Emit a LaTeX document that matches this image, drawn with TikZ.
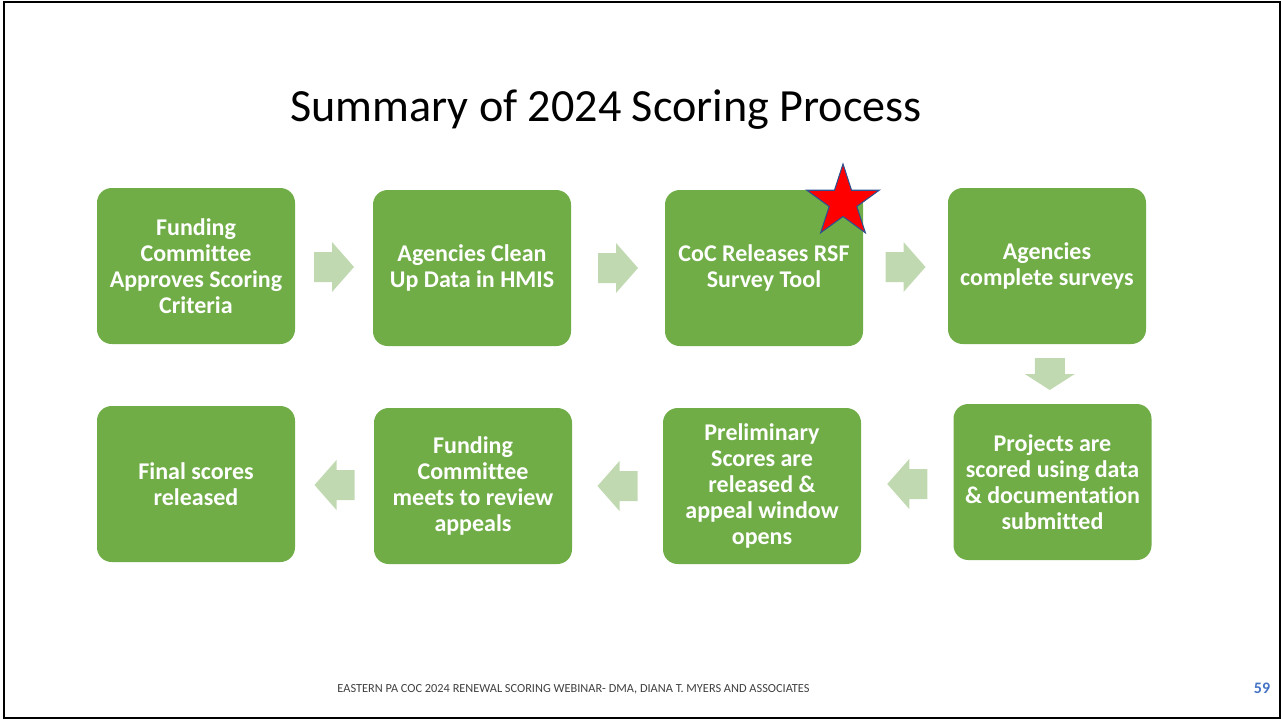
\documentclass[tikz,border=0pt]{standalone}
\usepackage{fontspec}
\setmainfont{Carlito}[Ligatures=CommonOff]
\usetikzlibrary{calc,shapes.geometric}
\definecolor{boxgreen}{RGB}{112,173,71}
\definecolor{arrowgreen}{RGB}{193,217,177}
\definecolor{footgray}{RGB}{64,64,64}
\definecolor{numblue}{RGB}{68,114,196}
\definecolor{starblue}{RGB}{47,82,143}
\tikzset{
  stage/.style={fill=boxgreen, rounded corners=11pt, minimum width=148.5pt,
    minimum height=117pt, align=center, text=white, inner sep=0pt,
    font=\fontsize{18}{19.5}\selectfont\bfseries},
  harrow/.pic={\fill[arrowgreen] (-20,-15) -- (-2,-15) -- (-2,-25) -- (20,0)
    -- (-2,25) -- (-2,15) -- (-20,15) -- cycle;},
  varrow/.pic={\fill[arrowgreen] (-15,-16) -- (15,-16) -- (15,0) -- (25,0)
    -- (0,16) -- (-25,0) -- (-15,0) -- cycle;}
}
\begin{document}
\begin{tikzpicture}[x=0.75pt, y=-0.75pt]
  \useasboundingbox (0,0) rectangle (1281,719);
  \draw[line width=1.6pt] (3.8,1.8) rectangle (1279.6,717.6);
  \node[anchor=base, font=\fontsize{34.6}{40}\selectfont] (title) at (606,121) {Summary of 2024 Scoring Process};
  % top row
  \node[stage] (fc) at (196,266) {Funding\\Committee\\Approves Scoring\\Criteria};
  \node[stage] (cl) at (472,268) {Agencies Clean\\Up Data in HMIS};
  \node[stage] (rel) at (764,268) {CoC Releases RSF\\Survey Tool};
  \node[stage] (cs) at (1047,266) {Agencies\\complete surveys};
  \node[star, star points=5, star point ratio=2.618, minimum size=57pt, inner sep=0pt,
    fill=red, draw=starblue, line width=0.8pt] (st) at (843,202) {};
  % bottom row
  \node[stage] (ps) at (1052.5,482) {Projects are\\scored using data\\\& documentation\\submitted};
  \node[stage] (pr) at (762,486) {Preliminary\\Scores are\\released \&\\appeal window\\opens};
  \node[stage] (fm) at (473,486) {Funding\\Committee\\meets to review\\appeals};
  \node[stage] (fs) at (196,484) {Final scores\\released};
  % block arrows
  \pic at ($(fc.east)!0.5!(cl.west)$) {harrow};
  \pic at ($(cl.east)!0.5!(rel.west)$) {harrow};
  \pic at ($(rel.east)!0.5!(cs.west)$) {harrow};
  \pic at ($(cs.south)!0.5!(ps.north)$) {varrow};
  \pic[rotate=180] at ($(ps.west)!0.5!(pr.east)$) {harrow};
  \pic[rotate=180] at ($(pr.west)!0.5!(fm.east)$) {harrow};
  \pic[rotate=180] at ($(fm.west)!0.5!(fs.east)$) {harrow};
  % footer
  \node[anchor=base, font=\fontsize{9.25}{10}\selectfont, text=footgray] (foot) at (573.5,692)
    {EASTERN PA COC 2024 RENEWAL SCORING WEBINAR- DMA, DIANA T. MYERS AND ASSOCIATES};
  \node[anchor=base, font=\fontsize{12}{14}\selectfont\bfseries, text=numblue] (pg) at (1262,693) {59};
\end{tikzpicture}
\end{document}
